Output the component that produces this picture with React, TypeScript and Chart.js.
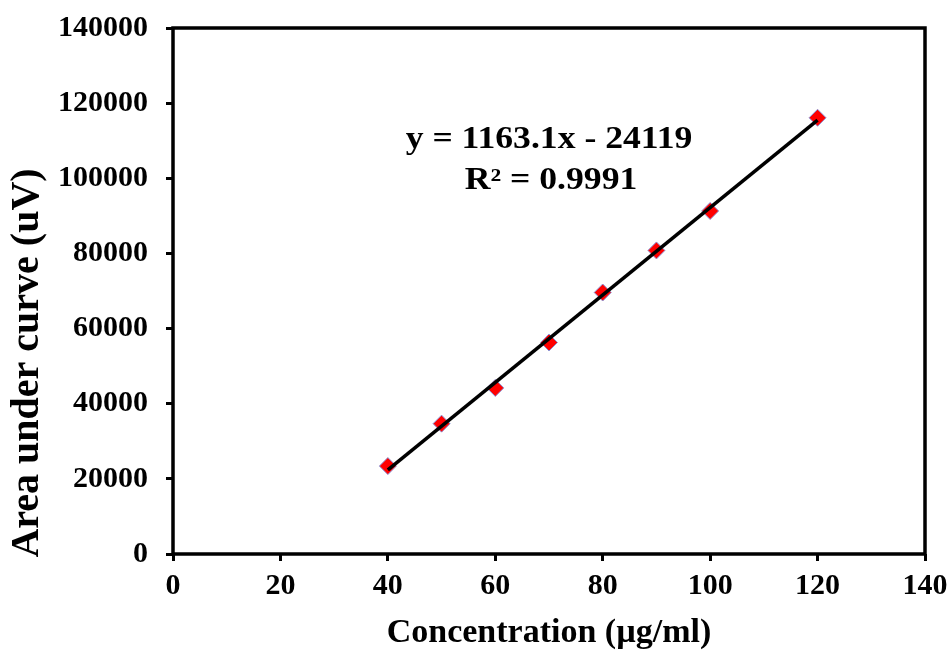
import React, { useEffect, useRef } from 'react';
import { Chart, registerables } from 'chart.js';

Chart.register(...registerables);

const concentrations = [40, 50, 60, 70, 80, 90, 100, 120];
const areas = [23400, 34700, 44200, 56300, 69600, 80800, 91300, 116100];
const slope = 1163.1;
const intercept = -24119;
const trendRange = [40, 120];
const equationLines = ['y = 1163.1x - 24119', 'R² = 0.9991'];
const xTitle = 'Concentration (µg/ml)';
const yTitle = 'Area under curve (uV)';
const xTicks = [0, 20, 40, 60, 80, 100, 120, 140];
const yTicks = [0, 20000, 40000, 60000, 80000, 100000, 120000, 140000];

const FONT = '"Liberation Serif", "Times New Roman", serif';

const decorPlugin = {
  id: 'decor',
  afterDraw(chart: any) {
    const { ctx, chartArea: a } = chart;
    ctx.save();
    ctx.lineWidth = 3.5;
    ctx.strokeStyle = '#000';
    ctx.strokeRect(a.left, a.top, a.right - a.left, a.bottom - a.top);

    ctx.fillStyle = '#000';
    ctx.textAlign = 'center';
    ctx.textBaseline = 'middle';
    ctx.font = `bold 31px ${FONT}`;
    ctx.save();
    ctx.translate(549, 140);
    ctx.scale(1.15, 1);
    ctx.fillText(equationLines[0], 0, 0);
    ctx.restore();
    ctx.save();
    ctx.translate(551, 181);
    ctx.scale(1.15, 1);
    ctx.fillText(equationLines[1], 0, 0);
    ctx.restore();

    ctx.font = `bold 34px ${FONT}`;
    ctx.fillText(xTitle, 549, 633);

    ctx.save();
    ctx.translate(28, 363);
    ctx.rotate(-Math.PI / 2);
    ctx.font = `bold 40px ${FONT}`;
    ctx.fillText(yTitle, 0, 0);
    ctx.restore();
    ctx.restore();
  },
};

export default function App() {
  const ref = useRef<HTMLCanvasElement>(null);
  useEffect(() => {
    if (!ref.current) return;
    const points = concentrations.map((x, i) => ({ x, y: areas[i] }));
    const trend = trendRange.map((x) => ({ x, y: slope * x + intercept }));
    const chart = new Chart(ref.current, {
      type: 'scatter',
      data: {
        datasets: [
          {
            type: 'line',
            data: trend,
            borderColor: '#000',
            borderWidth: 3.5,
            pointRadius: 0,
            fill: false,
            order: 0,
          } as any,
          {
            data: points,
            pointStyle: 'rectRot',
            pointRadius: 8.5,
            backgroundColor: '#ff0000',
            borderColor: '#8a96d8',
            borderWidth: 1,
            order: 1,
          },
        ],
      },
      options: {
        responsive: false,
        animation: false,
        layout: { padding: { top: 28, right: 27, left: 0, bottom: 0 } },
        plugins: { legend: { display: false }, tooltip: { enabled: false } },
        scales: {
          x: {
            type: 'linear',
            min: 0,
            max: 140,
            afterBuildTicks: (s: any) => { s.ticks = xTicks.map((v) => ({ value: v })); },
            afterFit: (s: any) => { s.height = 98; s.paddingLeft = 0; s.paddingRight = 0; },
            border: { display: false },
            grid: { display: true, drawOnChartArea: false, drawTicks: true, tickLength: 7, lineWidth: 3, color: '#000' },
            ticks: { color: '#000', padding: 7, font: { family: FONT, size: 30, weight: 'bold' } },
          },
          y: {
            type: 'linear',
            min: 0,
            max: 140000,
            afterBuildTicks: (s: any) => { s.ticks = yTicks.map((v) => ({ value: v })); },
            afterFit: (s: any) => { s.width = 173; s.paddingTop = 0; s.paddingBottom = 0; },
            border: { display: false },
            grid: { display: true, drawOnChartArea: false, drawTicks: true, tickLength: 7, lineWidth: 3, color: '#000' },
            ticks: { color: '#000', padding: 18, font: { family: FONT, size: 30, weight: 'bold' }, callback: (v: any) => String(v) },
          },
        },
      },
      plugins: [decorPlugin],
    });
    return () => chart.destroy();
  }, []);
  return (
    <div style={{ position: 'absolute', left: 0, top: 0, width: 952, height: 652, background: '#fff' }}>
      <canvas ref={ref} width={952} height={652} />
    </div>
  );
}
